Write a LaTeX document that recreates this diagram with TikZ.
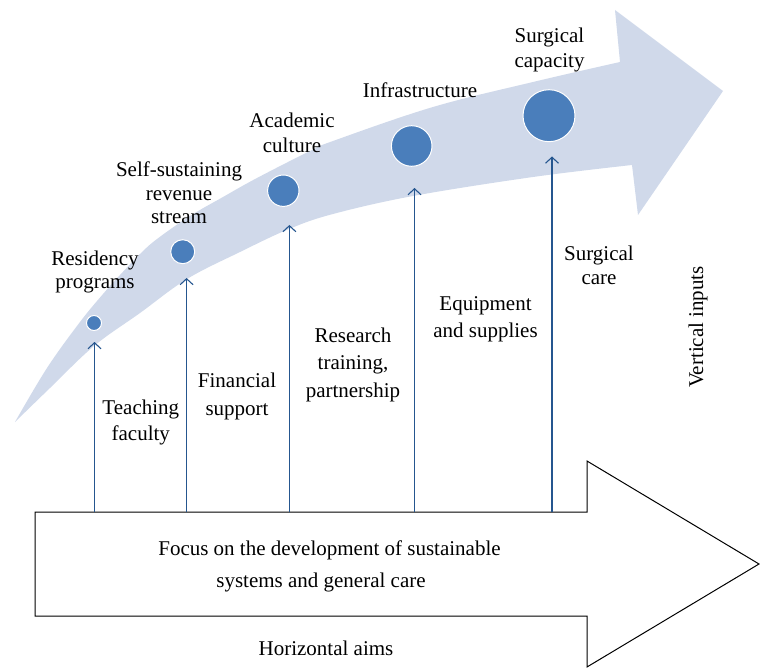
\documentclass[tikz,border=0pt]{standalone}
\usepackage{fontspec}
\setmainfont{Liberation Serif}
\usetikzlibrary{arrows.meta}
\definecolor{band}{HTML}{D0D9EA}
\definecolor{dot}{HTML}{4A7EBB}
\definecolor{inline}{HTML}{25568F}
\begin{document}
\begin{tikzpicture}[x=1pt,y=-1pt,
  lbl/.style={font=\fontsize{21}{#1}\selectfont, align=center, anchor=base, inner sep=0pt},
  lbl/.default=26,
  dotc/.style={circle, fill=dot, draw=white, line width=1pt, inner sep=0pt, minimum size=#1},
  inp/.style={draw=inline, line width=1.1pt, -{Straight Barb[length=6pt,width=13pt]}},
  bigarrow/.style={draw=black, line width=1pt, fill=white}
]
\useasboundingbox (0,0) rectangle (760,668);

% curved band arrow
\fill[band] plot[smooth, tension=0.6] coordinates {(15,422) (47,368) (80,322) (103,294) (120,275) (140,254) (157,239) (190,216) (223,197) (257,178) (310,151) (333,141) (433,107) (533,82) (620,62)}
  -- (615,10) -- (723,91) -- (638,215) -- (632,165)
  -- plot[smooth, tension=0.6] coordinates {(632,165) (533,177) (413,196) (333,214) (289,229) (240,252) (187,279) (140,313) (94,346) (50,388) (15,422)}
  -- cycle;

% circles
\node[dotc=15pt] (c1) at (94,323) {};
\node[dotc=24pt] (c2) at (182.7,251.7) {};
\node[dotc=31.4pt] (c3) at (283.3,190.7) {};
\node[dotc=40.6pt] (c4) at (411.7,146) {};
\node[dotc=52pt] (c5) at (549,115.7) {};

% horizontal arrow
\draw[bigarrow] (35,512) -- (587,512) -- (587,461) -- (759,564) -- (587,667) -- (587,616) -- (35,616) -- cycle;

% input connectors
\coordinate (b1) at (94.5,512);  \coordinate (t1) at (94.5,342);
\coordinate (b2) at (186.6,512); \coordinate (t2) at (186.6,278);
\coordinate (b3) at (289.4,512); \coordinate (t3) at (289.4,225);
\coordinate (b4) at (414.5,512); \coordinate (t4) at (414.5,188);
\coordinate (b5) at (552,512);   \coordinate (t5) at (552,156.5);
\draw[inp] (b1) -- (t1);
\draw[inp] (b2) -- (t2);
\draw[inp] (b3) -- (t3);
\draw[inp] (b4) -- (t4);
\draw[inp] (b5) -- (t5);

% labels (anchor = baseline of last line)
\node[lbl=23] (l1) at (95,289) {Residency\\programs};
\node[lbl=23.5] (l2) at (179,224) {Self-sustaining\\revenue\\stream};
\node[lbl=25] (l3) at (292,153) {Academic\\culture};
\node[lbl] (l4) at (420,98) {Infrastructure};
\node[lbl=25] (l5) at (549.5,68) {Surgical\\capacity};
\node[lbl=26.7] (i1) at (140.8,440.7) {Teaching\\faculty};
\node[lbl=28] (i2) at (237,415) {Financial\\support};
\node[lbl=27.5] (i3) at (353,397) {Research\\training,\\partnership};
\node[lbl=27] (i4) at (485.5,337) {Equipment\\and supplies};
\node[lbl=24] (i5) at (599,284) {Surgical\\care};
\node[lbl, rotate=90, anchor=center] (vi) at (698,327) {Vertical inputs};

\node[lbl] (h1) at (329.5,555) {Focus on the development of sustainable};
\node[lbl] (h2) at (321,587) {systems and general care};
\node[lbl] (ha) at (326,655) {Horizontal aims};
\end{tikzpicture}
\end{document}
